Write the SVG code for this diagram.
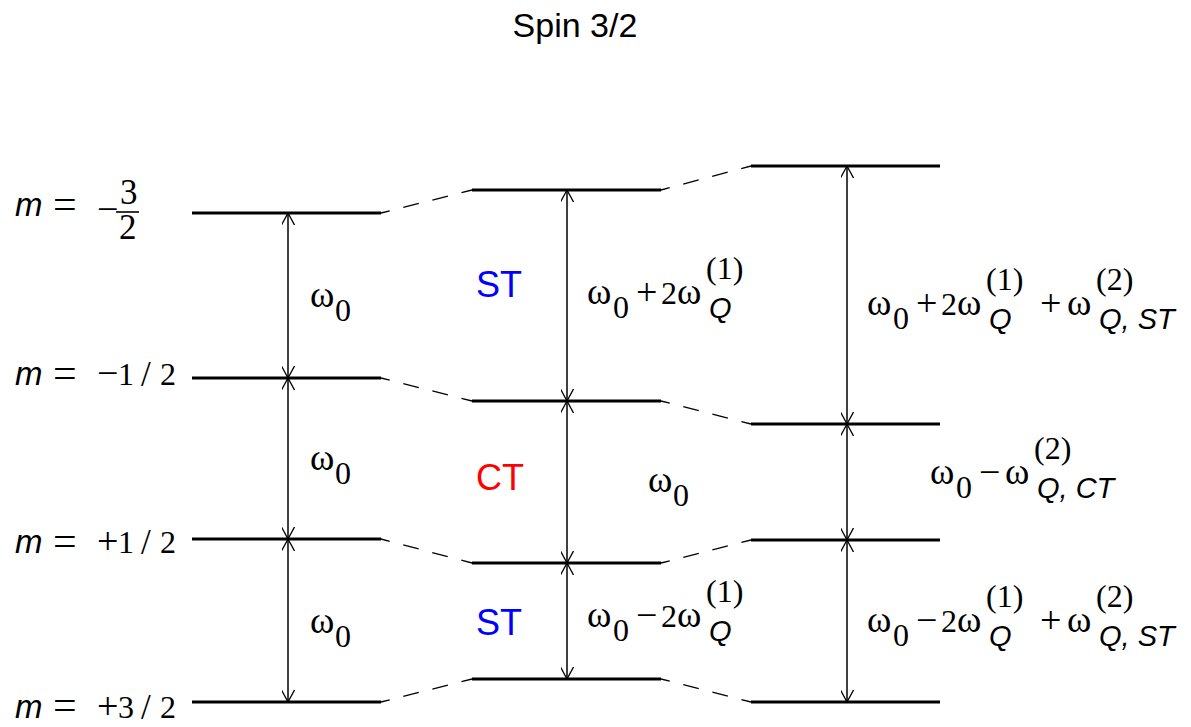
<svg xmlns="http://www.w3.org/2000/svg" width="1191" height="727" viewBox="0 0 1191 727">
<style>
.bg{fill:#fff}
.lvl{stroke:#000;stroke-width:3;fill:none}
.arr{stroke:#000;stroke-width:1.5;fill:none;marker-start:url(#ah);marker-end:url(#ah)}
.dash{stroke:#000;stroke-width:1.3;fill:none;stroke-dasharray:16 14;stroke-dashoffset:7}
.title{font-family:"Liberation Sans",Arial,sans-serif;font-size:34px;fill:#000}
.s{font-family:"Liberation Serif","Times New Roman",serif;font-size:32px;fill:#000}
.w{font-size:37px}
.op{font-size:38px}
.eq{font-size:42px}
.big{font-size:35px}
.q{font-family:"Liberation Sans",Arial,sans-serif;font-style:italic;font-size:29px}
.m{font-family:"Liberation Sans",Arial,sans-serif;font-style:italic;font-size:33px}
.tag{font-family:"Liberation Sans",Arial,sans-serif;font-size:36px;text-anchor:middle}
.st{fill:#0000ff}
.ct{fill:#ff0000}
</style>
<defs>
<marker id="ah" viewBox="0 0 12 13" refX="12" refY="6.5" markerWidth="12" markerHeight="13" markerUnits="userSpaceOnUse" orient="auto-start-reverse">
<path d="M0,0 L12,6.5 L0,13" fill="none" stroke="#000" stroke-width="1.3"/>
</marker>
</defs>
<rect class="bg" x="0" y="0" width="1191" height="727"/>
<g id="title"><text class="title" x="575" y="37" text-anchor="middle">Spin 3/2</text></g>

<g id="col1-levels">
<g id="l1-m32"><line class="lvl" x1="192" y1="213" x2="381" y2="213"/></g>
<g id="l1-m12"><line class="lvl" x1="192" y1="378" x2="381" y2="378"/></g>
<g id="l1-p12"><line class="lvl" x1="192" y1="539" x2="381" y2="539"/></g>
<g id="l1-p32"><line class="lvl" x1="192" y1="702" x2="381" y2="702"/></g>
</g>
<g id="col2-levels">
<g id="l2-m32"><line class="lvl" x1="472" y1="190" x2="661" y2="190"/></g>
<g id="l2-m12"><line class="lvl" x1="472" y1="401" x2="661" y2="401"/></g>
<g id="l2-p12"><line class="lvl" x1="472" y1="563" x2="661" y2="563"/></g>
<g id="l2-p32"><line class="lvl" x1="472" y1="679" x2="661" y2="679"/></g>
</g>
<g id="col3-levels">
<g id="l3-m32"><line class="lvl" x1="751" y1="166" x2="940" y2="166"/></g>
<g id="l3-m12"><line class="lvl" x1="751" y1="424" x2="940" y2="424"/></g>
<g id="l3-p12"><line class="lvl" x1="751" y1="540" x2="940" y2="540"/></g>
<g id="l3-p32"><line class="lvl" x1="751" y1="702" x2="940" y2="702"/></g>
</g>

<g id="connectors">
<line class="dash" x1="381" y1="213" x2="472" y2="190"/>
<line class="dash" x1="381" y1="378" x2="472" y2="401"/>
<line class="dash" x1="381" y1="539" x2="472" y2="563"/>
<line class="dash" x1="381" y1="702" x2="472" y2="679"/>
<line class="dash" x1="661" y1="190" x2="751" y2="166"/>
<line class="dash" x1="661" y1="401" x2="751" y2="424"/>
<line class="dash" x1="661" y1="563" x2="751" y2="540"/>
<line class="dash" x1="661" y1="679" x2="751" y2="702"/>
<line class="arr" x1="288" y1="213" x2="288" y2="378"/>
<line class="arr" x1="288" y1="378" x2="288" y2="539"/>
<line class="arr" x1="288" y1="539" x2="288" y2="702"/>
<line class="arr" x1="567" y1="190" x2="567" y2="401"/>
<line class="arr" x1="567" y1="401" x2="567" y2="563"/>
<line class="arr" x1="567" y1="563" x2="567" y2="679"/>
<line class="arr" x1="847" y1="166" x2="847" y2="424"/>
<line class="arr" x1="847" y1="424" x2="847" y2="540"/>
<line class="arr" x1="847" y1="540" x2="847" y2="702"/>
</g>

<g id="labels-m">
<g id="lab-m32">
<text class="s"><tspan class="m" x="15" y="216">m</tspan><tspan class="eq" x="53" y="218">=</tspan><tspan class="op" x="97" y="222">−</tspan><tspan class="big" x="120" y="204">3</tspan><tspan class="big" x="119" y="239">2</tspan></text>
<line x1="116" y1="212" x2="139" y2="212" stroke="#000" stroke-width="1.6"/>
</g>
<g id="lab-m12">
<text class="s"><tspan class="m" x="15" y="385">m</tspan><tspan class="eq" x="53" y="387">=</tspan><tspan class="op" x="97" y="386">−</tspan><tspan x="118" y="385">1</tspan><tspan class="big" x="141" y="386">/</tspan><tspan x="160" y="385">2</tspan></text>
</g>
<g id="lab-p12">
<text class="s"><tspan class="m" x="15" y="553">m</tspan><tspan class="eq" x="53" y="555">=</tspan><tspan class="op" x="97" y="554">+</tspan><tspan x="118" y="553">1</tspan><tspan class="big" x="141" y="554">/</tspan><tspan x="160" y="553">2</tspan></text>
</g>
<g id="lab-p32">
<text class="s"><tspan class="m" x="15" y="718">m</tspan><tspan class="eq" x="53" y="719">=</tspan><tspan class="op" x="97" y="719">+</tspan><tspan x="118" y="718">3</tspan><tspan class="big" x="141" y="719">/</tspan><tspan x="160" y="718">2</tspan></text>
</g>
</g>

<g id="col1-labels">
<text class="s"><tspan class="w" x="310" y="307">ω</tspan><tspan x="335" y="321">0</tspan></text>
<text class="s"><tspan class="w" x="310" y="470">ω</tspan><tspan x="335" y="484">0</tspan></text>
<text class="s"><tspan class="w" x="310" y="633">ω</tspan><tspan x="335" y="647">0</tspan></text>
</g>

<g id="col2-labels">
<text class="tag st" x="499" y="297">ST</text>
<text class="tag ct" x="500" y="490">CT</text>
<text class="tag st" x="499" y="635">ST</text>
<text class="s"><tspan class="w" x="587" y="304">ω</tspan><tspan x="613" y="318">0</tspan><tspan class="op" x="636" y="305">+</tspan><tspan x="661" y="304">2</tspan><tspan class="w" x="677" y="304">ω</tspan><tspan x="706" y="279">(1)</tspan><tspan class="q" x="709" y="318">Q</tspan></text>
<text class="s"><tspan class="w" x="648" y="492">ω</tspan><tspan x="673" y="506">0</tspan></text>
<text class="s"><tspan class="w" x="587" y="627">ω</tspan><tspan x="613" y="641">0</tspan><tspan class="op" x="636" y="628">−</tspan><tspan x="661" y="627">2</tspan><tspan class="w" x="677" y="627">ω</tspan><tspan x="706" y="602">(1)</tspan><tspan class="q" x="709" y="641">Q</tspan></text>
</g>

<g id="col3-labels">
<text class="s"><tspan class="w" x="867" y="315">ω</tspan><tspan x="893" y="329">0</tspan><tspan class="op" x="916" y="316">+</tspan><tspan x="941" y="315">2</tspan><tspan class="w" x="957" y="315">ω</tspan><tspan x="986" y="290">(1)</tspan><tspan class="q" x="989" y="329">Q</tspan><tspan class="op" x="1040" y="316">+</tspan><tspan class="w" x="1067" y="315">ω</tspan><tspan x="1096" y="290">(2)</tspan><tspan class="q" x="1099" y="329">Q, ST</tspan></text>
<text class="s"><tspan class="w" x="930" y="484">ω</tspan><tspan x="956" y="498">0</tspan><tspan class="op" x="979" y="485">−</tspan><tspan class="w" x="1005" y="484">ω</tspan><tspan x="1034" y="459">(2)</tspan><tspan class="q" x="1037" y="498">Q, CT</tspan></text>
<text class="s"><tspan class="w" x="867" y="632">ω</tspan><tspan x="893" y="646">0</tspan><tspan class="op" x="916" y="633">−</tspan><tspan x="941" y="632">2</tspan><tspan class="w" x="957" y="632">ω</tspan><tspan x="986" y="607">(1)</tspan><tspan class="q" x="989" y="646">Q</tspan><tspan class="op" x="1040" y="633">+</tspan><tspan class="w" x="1067" y="632">ω</tspan><tspan x="1096" y="607">(2)</tspan><tspan class="q" x="1099" y="646">Q, ST</tspan></text>
</g>
</svg>
